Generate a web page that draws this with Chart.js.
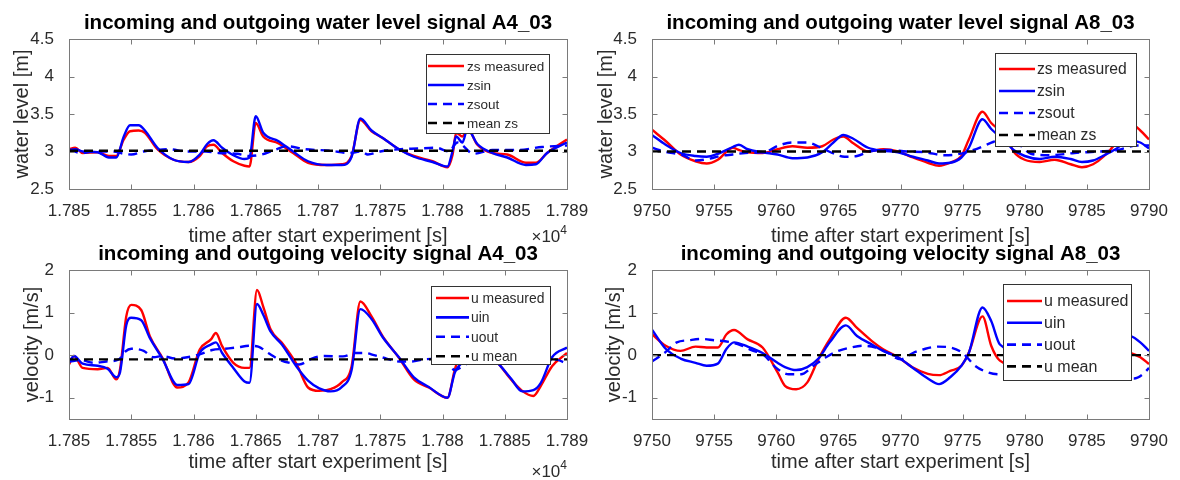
<!DOCTYPE html>
<html>
<head>
<meta charset="utf-8">
<script src="https://cdn.jsdelivr.net/npm/chart.js@4.4.1/dist/chart.umd.min.js"></script>
<style>
  html, body { margin: 0; padding: 0; background: #fff; }
  #fig { position: relative; width: 1180px; height: 480px; }
  #fig canvas { position: absolute; left: 0; top: 0; }
</style>
</head>
<body>
<div id="fig">
  <canvas id="levelA4" width="1180" height="480"></canvas>
  <canvas id="levelA8" width="1180" height="480"></canvas>
  <canvas id="velA4" width="1180" height="480"></canvas>
  <canvas id="velA8" width="1180" height="480"></canvas>
</div>
<script>
// ---- ticks / ranges ----
const xTicksA4 = [17850, 17855, 17860, 17865, 17870, 17875, 17880, 17885, 17890];
const xTicksA8 = [9750, 9755, 9760, 9765, 9770, 9775, 9780, 9785, 9790];
const yTicksLevel = [2.5, 3, 3.5, 4, 4.5];
const yTicksVel = [-1, 0, 1, 2];
const levelRange = [2.5, 4.5];
const velRange = [-1.5, 2];

// ---- water level A4_03 ----
const tLevelA4 = [17850, 17850.5, 17851.1, 17852.3, 17853.2, 17853.8, 17854.4, 17854.9, 17855.6, 17856.1, 17857.1, 17858.4, 17859.6, 17860.5, 17861.1, 17861.6, 17862.3, 17863.2, 17864.1, 17864.5, 17865.0, 17865.6, 17866.8, 17868.0, 17869.2, 17870.7, 17871.9, 17872.7, 17873.4, 17874.3, 17875.2, 17876.5, 17877.7, 17879.2, 17880.4, 17880.8, 17881.1, 17881.6, 17882.0, 17882.8, 17884.0, 17885.2, 17886.7, 17887.5, 17888.4, 17890];
const zsMeasA4 = [3.03, 3.05, 2.98, 2.99, 2.94, 2.94, 3.16, 3.27, 3.28, 3.25, 3.03, 2.89, 2.86, 2.94, 3.07, 3.09, 2.98, 2.87, 2.81, 2.80, 3.38, 3.20, 3.11, 2.98, 2.85, 2.82, 2.83, 2.94, 3.42, 3.27, 3.18, 3.03, 2.94, 2.87, 2.79, 2.95, 3.25, 3.20, 3.31, 3.09, 2.98, 2.96, 2.85, 2.85, 2.98, 3.16];
const zsInA4 = [3.02, 3.03, 3.00, 2.99, 2.92, 2.92, 3.20, 3.35, 3.35, 3.28, 3.05, 2.89, 2.86, 2.96, 3.10, 3.15, 3.05, 2.95, 2.90, 2.92, 3.47, 3.25, 3.14, 3.00, 2.87, 2.82, 2.82, 2.93, 3.44, 3.28, 3.18, 3.03, 2.93, 2.86, 2.80, 3.00, 3.20, 3.12, 3.30, 3.10, 2.98, 2.92, 2.82, 2.83, 2.98, 3.12];
const tLevelOutA4 = [17850, 17851, 17852, 17853.5, 17854.4, 17855, 17856, 17857, 17858, 17859.5, 17861, 17862, 17863.5, 17864.5, 17865.5, 17866.5, 17867.5, 17869, 17871, 17872.5, 17873.5, 17874, 17875, 17876.5, 17878, 17879.5, 17880.5, 17881.2, 17882.5, 17884, 17886, 17888, 17890];
const zsOutA4 = [3.02, 2.98, 3.00, 3.00, 2.97, 2.96, 3.00, 3.02, 3.03, 3.00, 3.00, 2.98, 2.97, 2.94, 2.96, 3.02, 3.07, 3.03, 3.01, 2.98, 3.00, 2.96, 3.00, 3.03, 3.04, 3.05, 3.00, 3.12, 2.97, 3.02, 3.02, 3.06, 3.08];
const zsMeanA4 = 3.01;

// ---- water level A8_03 ----
const tLevelA8 = [9750, 9751.1, 9752.3, 9753.5, 9754.4, 9755.3, 9756.5, 9757.0, 9757.7, 9758.9, 9760.1, 9761.3, 9762.5, 9763.7, 9764.6, 9765.4, 9766.2, 9767.4, 9768.6, 9769.8, 9771.0, 9772.2, 9773.1, 9774.0, 9774.9, 9775.5, 9776.6, 9777.3, 9778.5, 9779.1, 9780.0, 9781.2, 9782.4, 9783.7, 9784.6, 9785.5, 9786.4, 9787.3, 9787.9, 9788.6, 9789.3, 9790];
const zsMeasA8 = [3.29, 3.14, 2.96, 2.87, 2.84, 2.89, 3.05, 3.02, 2.99, 2.98, 3.03, 3.07, 3.05, 3.07, 3.16, 3.20, 3.11, 3.00, 3.03, 3.00, 2.92, 2.85, 2.81, 2.85, 2.94, 3.16, 3.53, 3.38, 3.20, 3.00, 2.89, 2.86, 2.89, 2.83, 2.79, 2.83, 2.94, 3.11, 3.29, 3.36, 3.28, 3.16];
const zsInA8 = [3.22, 3.09, 2.98, 2.94, 2.93, 2.97, 3.06, 3.09, 3.03, 2.99, 2.96, 2.91, 2.92, 2.99, 3.12, 3.22, 3.17, 3.05, 3.01, 2.99, 2.93, 2.88, 2.84, 2.85, 2.92, 3.05, 3.43, 3.30, 3.12, 3.02, 2.94, 2.90, 2.93, 2.90, 2.86, 2.88, 2.95, 3.03, 3.10, 3.14, 3.12, 3.04];
const tLevelOutA8 = [9750, 9751, 9752.5, 9753.5, 9754.5, 9755.5, 9756.5, 9757.5, 9759, 9760.2, 9761.3, 9762.5, 9763.5, 9764.5, 9765.5, 9766.5, 9767.5, 9769, 9770.5, 9772, 9773.5, 9774.5, 9775.5, 9776.5, 9777.5, 9778.5, 9779.5, 9780.5, 9782, 9784, 9786, 9787.5, 9789, 9790];
const zsOutA8 = [3.05, 3.00, 2.95, 2.88, 2.90, 2.94, 2.96, 2.98, 2.99, 3.08, 3.12, 3.12, 3.06, 2.98, 2.93, 2.94, 3.00, 3.02, 3.00, 2.99, 2.95, 2.96, 3.00, 3.06, 3.13, 3.18, 3.10, 2.97, 2.95, 2.98, 3.00, 3.02, 3.08, 3.08];
const zsMeanA8 = 3.0;

// ---- velocity A4_03 ----
const tVelA4 = [17850, 17850.4, 17851.1, 17852.3, 17853.1, 17853.8, 17854.1, 17854.6, 17855.0, 17855.8, 17856.5, 17857.5, 17858.7, 17859.6, 17860.5, 17861.4, 17861.8, 17862.3, 17863.2, 17864.1, 17864.5, 17865.1, 17865.6, 17866.2, 17867.1, 17868.3, 17869.2, 17870.1, 17871.0, 17871.9, 17872.7, 17873.4, 17874.3, 17875.2, 17876.5, 17877.7, 17878.9, 17880.4, 17881.0, 17881.5, 17883.0, 17884.3, 17885.5, 17886.4, 17887.3, 17887.9, 17888.8, 17890];
const uMeasA4 = [-0.22, -0.02, -0.30, -0.33, -0.30, -0.57, -0.33, 0.91, 1.18, 1.06, 0.44, -0.06, -0.76, -0.64, 0.13, 0.37, 0.52, 0.21, -0.18, -0.30, -0.30, 1.53, 1.14, 0.60, 0.29, -0.22, -0.76, -0.84, -0.80, -0.64, -0.26, 1.26, 0.91, 0.44, -0.06, -0.57, -0.76, -1.00, -0.33, 0.05, 0.10, -0.14, -0.57, -0.84, -0.96, -0.72, -0.26, 0.05];
const uInA4 = [-0.18, -0.02, -0.20, -0.25, -0.32, -0.52, -0.40, 0.70, 0.88, 0.82, 0.40, -0.08, -0.70, -0.68, 0.05, 0.25, 0.30, 0.05, -0.30, -0.62, -0.65, 1.20, 0.95, 0.55, 0.25, -0.28, -0.60, -0.78, -0.85, -0.75, -0.35, 1.08, 0.85, 0.42, -0.05, -0.52, -0.75, -1.00, -0.40, -0.20, 0.05, -0.15, -0.55, -0.85, -0.82, -0.65, -0.05, 0.18];
const tVelOutA4 = [17850, 17851, 17852, 17853, 17854, 17854.5, 17855, 17856, 17856.8, 17857.5, 17858.5, 17859.5, 17860.5, 17861.5, 17862.5, 17863.5, 17864.5, 17865.2, 17866, 17867, 17868, 17868.5, 17869.5, 17870.5, 17872, 17873, 17873.8, 17874.5, 17875.5, 17876.5, 17877.5, 17878.5, 17880, 17881, 17882, 17884, 17886, 17887.5, 17889, 17890];
const uOutA4 = [-0.15, -0.12, -0.18, -0.15, -0.10, 0.08, 0.15, 0.10, -0.05, -0.02, -0.08, -0.05, 0.02, 0.12, 0.15, 0.18, 0.22, 0.20, 0.05, -0.12, -0.20, -0.22, -0.08, -0.02, -0.03, 0.05, 0.05, 0.00, -0.08, -0.15, -0.15, -0.10, -0.08, -0.35, -0.20, -0.12, -0.15, -0.18, -0.10, -0.20];
const uMeanA4 = -0.10;

// ---- velocity A8_03 ----
const tVelA8 = [9750, 9751.1, 9752.3, 9753.5, 9754.4, 9755.3, 9756.0, 9756.6, 9757.7, 9758.9, 9760.1, 9760.7, 9761.6, 9762.5, 9763.4, 9764.3, 9765.6, 9766.5, 9767.7, 9768.6, 9769.8, 9771.0, 9772.2, 9773.1, 9774.0, 9774.9, 9775.5, 9776.6, 9777.3, 9778.0, 9779.5, 9781, 9783, 9785, 9787, 9788.5, 9789.3, 9790];
const uMeasA8 = [0.49, 0.22, 0.10, 0.20, 0.18, 0.18, 0.49, 0.59, 0.37, 0.18, -0.40, -0.72, -0.80, -0.64, -0.09, 0.37, 0.88, 0.64, 0.33, 0.14, -0.05, -0.29, -0.44, -0.47, -0.37, -0.25, 0.06, 0.91, 0.22, -0.13, -0.25, -0.20, 0.00, 0.15, 0.15, 0.05, -0.05, -0.21];
const uInA8 = [0.60, 0.15, -0.08, -0.18, -0.25, -0.20, 0.15, 0.30, 0.20, 0.05, -0.18, -0.28, -0.35, -0.28, -0.08, 0.30, 0.70, 0.45, 0.25, 0.10, -0.05, -0.30, -0.55, -0.68, -0.52, -0.25, 0.05, 1.12, 0.80, 0.25, 0.10, 0.20, 0.35, 0.45, 0.50, 0.45, 0.30, 0.10];
const tVelOutA8 = [9750, 9751, 9752, 9753, 9754, 9755, 9756, 9757, 9758, 9759, 9760, 9761, 9762, 9763, 9764, 9765, 9766, 9767, 9768, 9769, 9770, 9771, 9772, 9773, 9774, 9775, 9776, 9777, 9778, 9779, 9780, 9782, 9784, 9786, 9788, 9788.8, 9789.5, 9790];
const uOutA8 = [-0.15, 0.05, 0.30, 0.35, 0.38, 0.35, 0.32, 0.25, 0.12, 0.00, -0.30, -0.45, -0.45, -0.25, -0.05, 0.10, 0.18, 0.22, 0.18, 0.05, -0.10, 0.05, 0.15, 0.20, 0.18, 0.05, -0.25, -0.40, -0.45, -0.40, -0.30, -0.10, -0.20, -0.35, -0.50, -0.55, -0.45, -0.30];
const uMeanA8 = 0.0;

const FONT = '"Liberation Sans", Arial, sans-serif';
const TEXT = '#2b2b2b';

const pts = (t, v) => t.map((x, i) => ({ x, y: v[i] }));
const flat = (ticks, v) => [{ x: ticks[0], y: v }, { x: ticks[ticks.length - 1], y: v }];

function series(labels, tMain, meas, inc, tOut, out, ticks, mean) {
  return [
    { label: labels[0], data: pts(tMain, meas), borderColor: '#ff0000', borderWidth: 2.4, order: 4 },
    { label: labels[1], data: pts(tMain, inc), borderColor: '#0000ff', borderWidth: 2.4, order: 3 },
    { label: labels[2], data: pts(tOut, out), borderColor: '#0000ff', borderWidth: 2.4, borderDash: [9, 6], order: 2 },
    { label: labels[3], data: flat(ticks, mean), borderColor: '#000000', borderWidth: 2.4, borderDash: [9, 6], order: 1 }
  ];
}

// titles, box, inward ticks, in-axes legend, x10^4 note
const matlabAxes = {
  id: 'matlabAxes',
  afterDatasetsDraw(chart, args, opts) {
    const { ctx, chartArea: a } = chart;
    const sx = chart.scales.x, sy = chart.scales.y;
    ctx.save();

    const lg = opts.legend;
    const bx = a.right - lg.right - lg.width;
    const by = a.top + lg.top;
    ctx.fillStyle = '#ffffff';
    ctx.fillRect(bx, by, lg.width, lg.height);
    ctx.strokeStyle = '#333333';
    ctx.lineWidth = 1;
    ctx.strokeRect(Math.round(bx) + 0.5, Math.round(by) + 0.5, lg.width, lg.height);
    ctx.font = lg.font + 'px ' + FONT;
    ctx.textAlign = 'left';
    ctx.textBaseline = 'middle';
    chart.data.datasets.forEach((ds, i) => {
      const ly = by + lg.rowTop + i * lg.rowGap;
      ctx.beginPath();
      ctx.setLineDash(ds.borderDash || []);
      ctx.strokeStyle = ds.borderColor;
      ctx.lineWidth = 2.6;
      ctx.moveTo(bx + lg.pad, ly);
      ctx.lineTo(bx + lg.pad + lg.sample, ly);
      ctx.stroke();
      ctx.setLineDash([]);
      ctx.fillStyle = TEXT;
      ctx.fillText(ds.label, bx + lg.pad + lg.sample + lg.gap, ly + 1);
    });

    ctx.strokeStyle = '#7a7a7a';
    ctx.lineWidth = 1;
    const L = Math.round(a.left) + 0.5, T = Math.round(a.top) + 0.5;
    const R = Math.round(a.right) + 0.5, B = Math.round(a.bottom) + 0.5;
    ctx.strokeRect(L, T, R - L, B - T);
    ctx.beginPath();
    sx.ticks.forEach(t => {
      const px = Math.round(sx.getPixelForValue(t.value)) + 0.5;
      ctx.moveTo(px, B); ctx.lineTo(px, B - 5);
      ctx.moveTo(px, T); ctx.lineTo(px, T + 5);
    });
    sy.ticks.forEach(t => {
      const py = Math.round(sy.getPixelForValue(t.value)) + 0.5;
      ctx.moveTo(L, py); ctx.lineTo(L + 5, py);
      ctx.moveTo(R, py); ctx.lineTo(R - 5, py);
    });
    ctx.stroke();

    ctx.fillStyle = '#000000';
    ctx.font = 'bold 20.5px ' + FONT;
    ctx.textAlign = 'center';
    ctx.textBaseline = 'alphabetic';
    ctx.fillText(opts.title, (a.left + a.right) / 2, a.top - 10.5);

    if (opts.exponent) {
      ctx.fillStyle = TEXT;
      ctx.textAlign = 'right';
      ctx.font = '12px ' + FONT;
      const w4 = ctx.measureText('4').width;
      ctx.fillText('4', a.right, a.bottom + opts.exponent - 8);
      ctx.font = '17px ' + FONT;
      ctx.fillText('\u00d710', a.right - w4, a.bottom + opts.exponent);
    }
    ctx.restore();
  }
};

function makeChart(id, cfg) {
  return new Chart(document.getElementById(id), {
    type: 'line',
    data: { datasets: cfg.datasets },
    options: {
      responsive: false,
      animation: false,
      devicePixelRatio: 1,
      layout: { padding: cfg.padding },
      elements: { point: { radius: 0 }, line: { cubicInterpolationMode: 'monotone' } },
      plugins: { legend: { display: false }, tooltip: { enabled: false }, matlabAxes: cfg.axes },
      scales: {
        x: {
          type: 'linear',
          min: cfg.xTicks[0],
          max: cfg.xTicks[cfg.xTicks.length - 1],
          grid: { display: false },
          border: { display: false },
          ticks: { autoSkip: false, maxRotation: 0, padding: cfg.xPad, color: TEXT, font: { family: FONT, size: 17 }, callback: cfg.xFormat },
          title: { display: true, text: 'time after start experiment [s]', color: TEXT, padding: 0, font: { family: FONT, size: 20 } },
          afterBuildTicks: s => { s.ticks = cfg.xTicks.map(v => ({ value: v })); },
          afterFit: s => { s.height = cfg.xHeight; }
        },
        y: {
          min: cfg.yRange[0],
          max: cfg.yRange[1],
          grid: { display: false },
          border: { display: false },
          ticks: { padding: 7, color: TEXT, font: { family: FONT, size: 17 }, callback: v => String(v) },
          title: { display: true, text: cfg.yTitle, color: TEXT, padding: 0, font: { family: FONT, size: 20 } },
          afterBuildTicks: s => { s.ticks = cfg.yTicks.map(v => ({ value: v })); },
          afterFit: s => { s.width = cfg.yWidth; }
        }
      }
    },
    plugins: [matlabAxes]
  });
}

const fmtE4 = v => String(+(v / 1e4).toFixed(4));
const fmtPlain = v => String(v);

makeChart('levelA4', {
  datasets: series(['zs measured', 'zsin', 'zsout', 'mean zs'], tLevelA4, zsMeasA4, zsInA4, tLevelOutA4, zsOutA4, xTicksA4, zsMeanA4),
  padding: { left: 10, top: 39, right: 613, bottom: 232 },
  yWidth: 59, xHeight: 59, xPad: 4,
  xTicks: xTicksA4, xFormat: fmtE4, yTicks: yTicksLevel, yRange: levelRange, yTitle: 'water level [m]',
  axes: { title: 'incoming and outgoing water level signal A4_03', exponent: 53,
    legend: { right: 18, top: 15, width: 123, height: 79, rowTop: 12, rowGap: 19, font: 13.5, pad: 2, sample: 36, gap: 3 } }
});

makeChart('levelA8', {
  datasets: series(['zs measured', 'zsin', 'zsout', 'mean zs'], tLevelA8, zsMeasA8, zsInA8, tLevelOutA8, zsOutA8, xTicksA8, zsMeanA8),
  padding: { left: 594, top: 39, right: 31, bottom: 232 },
  yWidth: 58, xHeight: 59, xPad: 4,
  xTicks: xTicksA8, xFormat: fmtPlain, yTicks: yTicksLevel, yRange: levelRange, yTitle: 'water level [m]',
  axes: { title: 'incoming and outgoing water level signal A8_03', exponent: 0,
    legend: { right: 13, top: 14, width: 141, height: 93, rowTop: 16, rowGap: 22, font: 15.7, pad: 4, sample: 36, gap: 2 } }
});

makeChart('velA4', {
  datasets: series(['u measured', 'uin', 'uout', 'u mean'], tVelA4, uMeasA4, uInA4, tVelOutA4, uOutA4, xTicksA4, uMeanA4),
  padding: { left: 20, top: 270, right: 613, bottom: 6 },
  yWidth: 49, xHeight: 55, xPad: 4,
  xTicks: xTicksA4, xFormat: fmtE4, yTicks: yTicksVel, yRange: velRange, yTitle: 'velocity [m/s]',
  axes: { title: 'incoming and outgoing velocity signal A4_03', exponent: 58,
    legend: { right: 17, top: 16, width: 119, height: 78, rowTop: 12, rowGap: 19.4, font: 13.9, pad: 5, sample: 33, gap: 2 } }
});

makeChart('velA8', {
  datasets: series(['u measured', 'uin', 'uout', 'u mean'], tVelA8, uMeasA8, uInA8, tVelOutA8, uOutA8, xTicksA8, uMeanA8),
  padding: { left: 602, top: 270, right: 31, bottom: 6 },
  yWidth: 50, xHeight: 55, xPad: 4,
  xTicks: xTicksA8, xFormat: fmtPlain, yTicks: yTicksVel, yRange: velRange, yTitle: 'velocity [m/s]',
  axes: { title: 'incoming and outgoing velocity signal A8_03', exponent: 0,
    legend: { right: 18, top: 14, width: 128, height: 96, rowTop: 17, rowGap: 21.8, font: 16, pad: 4, sample: 35, gap: 2 } }
});
</script>
</body>
</html>
